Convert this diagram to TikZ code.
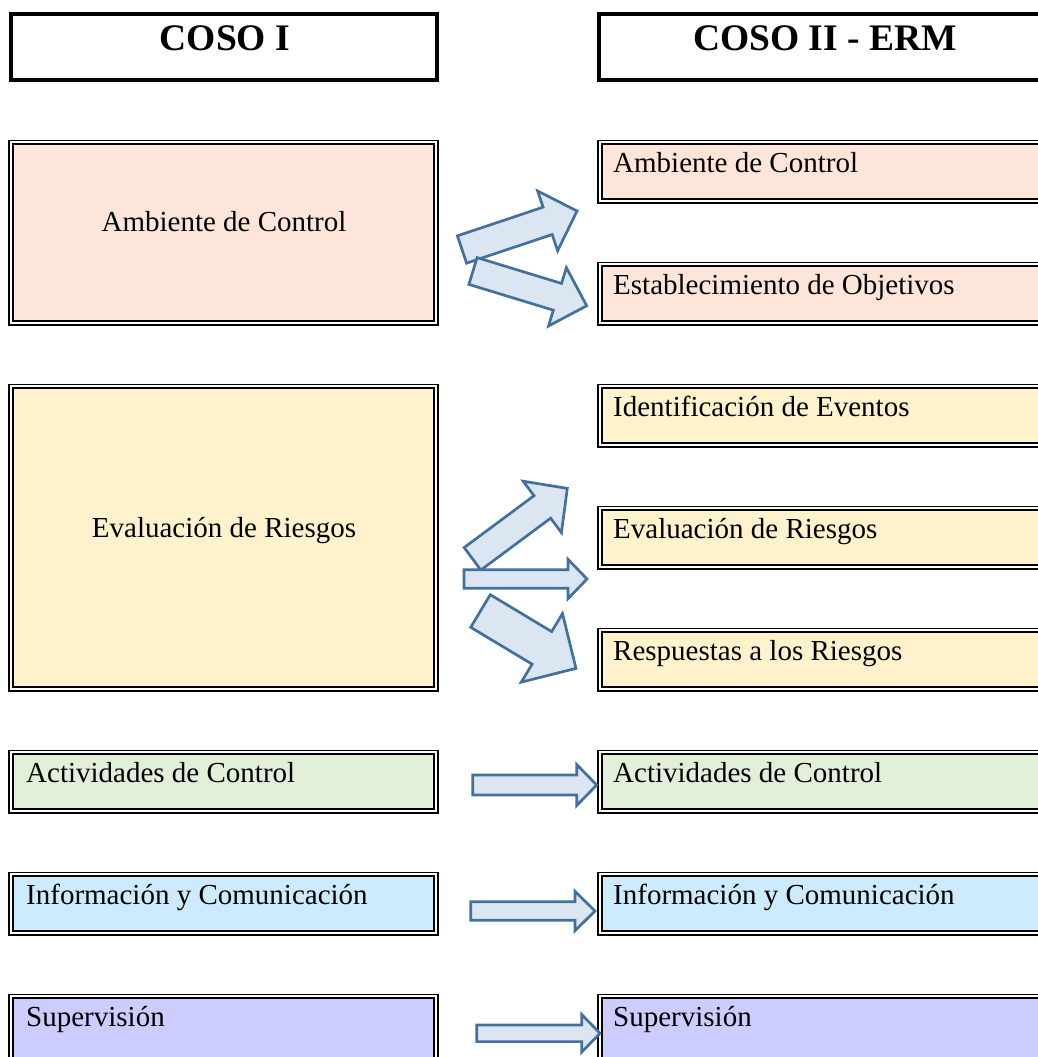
\documentclass[tikz,border=0pt]{standalone}
\usepackage{fontspec}
\setmainfont{Liberation Serif}
\begin{document}
\definecolor{peach}{HTML}{FDE5D9}
\definecolor{cream}{HTML}{FFF2CC}
\definecolor{mint}{HTML}{E2EFD9}
\definecolor{sky}{HTML}{CCEBFF}
\definecolor{lavender}{HTML}{CCCCFF}
\definecolor{arrowfill}{HTML}{DCE6F2}
\definecolor{arrowline}{HTML}{41719C}
\begin{tikzpicture}[x=1pt,y=-1pt,
  headbox/.style={draw=black, line width=3.5pt},
  dbox/.style={draw=black, line width=1.9pt, double distance=1.8pt},
  boxtext/.style={font=\fontsize{29}{34}\selectfont, inner sep=0pt},
  headtext/.style={font=\fontsize{37.5}{42}\selectfont\bfseries, inner sep=0pt},
  arrowbox/.style={draw=arrowline, fill=arrowfill, line width=2.7pt, line join=miter}]
\useasboundingbox (0,0) rectangle (1038,1057);
% block arrow: tail centre, angle, length, half shaft, half head, head length
\newcommand\blockarrow[6]{%
  \draw[arrowbox, shift={#1}, rotate=#2]
    (0,-#4) -- ({#3-#6},-#4) -- ({#3-#6},-#5) -- (#3,0)
    -- ({#3-#6},#5) -- ({#3-#6},#4) -- (0,#4) -- cycle;}

% column headers
\draw[headbox] (11,14) rectangle (437,80);
\draw[headbox] (599,14) rectangle (1050,80);
\node[headtext, anchor=base] (h1) at (225,51) {COSO I};
\node[headtext, anchor=base] (h2) at (825,51) {COSO II - ERM};

% COSO I components
\draw[dbox, fill=peach]    (11,142.3) rectangle (436,322.7);
\draw[dbox, fill=cream]    (11,386.3) rectangle (436,688.7);
\draw[dbox, fill=mint]     (11,752.3) rectangle (436,810.7);
\draw[dbox, fill=sky]      (11,874.3) rectangle (436,932.7);
\draw[dbox, fill=lavender] (11,996.3) rectangle (436,1070);
\node[boxtext, anchor=base] (l1) at (224,231) {Ambiente de Control};
\node[boxtext, anchor=base] (l2) at (224,537) {Evaluación de Riesgos};
\node[boxtext, anchor=base west] (l3) at (26,782) {Actividades de Control};
\node[boxtext, anchor=base west] (l4) at (26,904) {Información y Comunicación};
\node[boxtext, anchor=base west] (l5) at (26,1026) {Supervisión};

% COSO II - ERM components
\draw[dbox, fill=peach]    (599.8,142.3) rectangle (1050,200.7);
\draw[dbox, fill=peach]    (599.8,264.3) rectangle (1050,322.7);
\draw[dbox, fill=cream]    (599.8,386.3) rectangle (1050,444.7);
\draw[dbox, fill=cream]    (599.8,508.3) rectangle (1050,566.7);
\draw[dbox, fill=cream]    (599.8,630.3) rectangle (1050,688.7);
\draw[dbox, fill=mint]     (599.8,752.3) rectangle (1050,810.7);
\draw[dbox, fill=sky]      (599.8,874.3) rectangle (1050,932.7);
\draw[dbox, fill=lavender] (599.8,996.3) rectangle (1050,1070);
\node[boxtext, anchor=base west] (r1) at (613,172) {Ambiente de Control};
\node[boxtext, anchor=base west] (r2) at (613,294) {Establecimiento de Objetivos};
\node[boxtext, anchor=base west] (r3) at (613,416) {Identificación de Eventos};
\node[boxtext, anchor=base west] (r4) at (613,538) {Evaluación de Riesgos};
\node[boxtext, anchor=base west] (r5) at (613,660) {Respuestas a los Riesgos};
\node[boxtext, anchor=base west] (r6) at (613,782) {Actividades de Control};
\node[boxtext, anchor=base west] (r7) at (613,904) {Información y Comunicación};
\node[boxtext, anchor=base west] (r8) at (613,1026) {Supervisión};

% arrows between the two models
\blockarrow{(462,249.5)}{18.5}{121.3}{14.4}{31.5}{31}
\blockarrow{(473,271)}{-17}{118.9}{14}{30.5}{30.6}
\blockarrow{(472.5,558.8)}{36.6}{118.1}{14}{32}{31.1}
\blockarrow{(464,579)}{0}{123}{9.2}{19.7}{19}
\blockarrow{(480.5,611)}{-31}{111.4}{19}{40}{39.8}
\blockarrow{(472.7,785)}{0}{124}{10}{20.5}{20}
\blockarrow{(470.7,911)}{0}{124.3}{9.2}{19.7}{20}
\blockarrow{(476.7,1033.3)}{0}{123.3}{8.3}{18.8}{18.3}
\end{tikzpicture}
\end{document}
